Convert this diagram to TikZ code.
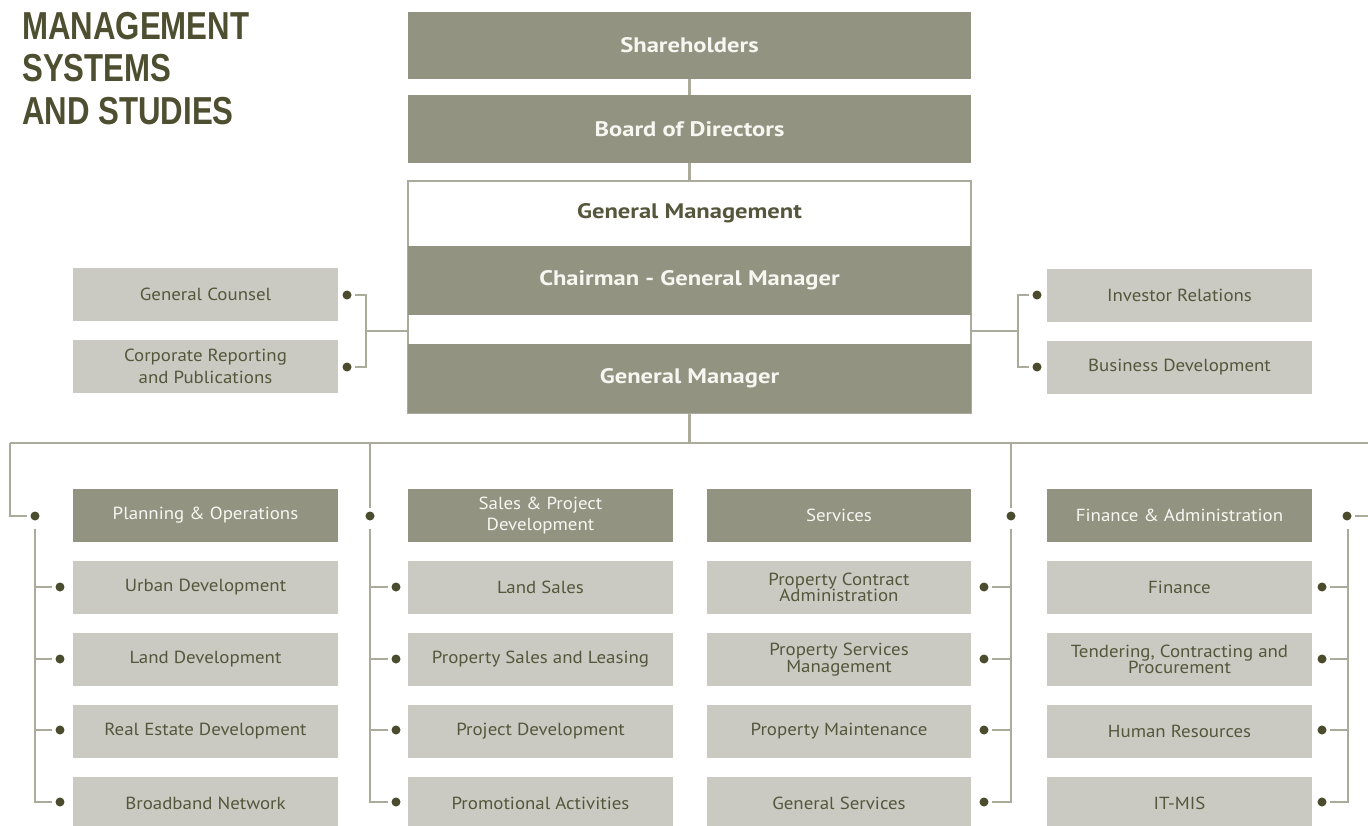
\documentclass[tikz,border=0pt]{standalone}
\usepackage{fontspec}
\setmainfont{PT Sans}[FakeStretch=1.08, BoldFeatures={FakeStretch=1.17}]
\newfontfamily\titlefont[FakeStretch=0.80]{Liberation Sans}
\definecolor{boxdark}{HTML}{939382}
\definecolor{boxlight}{HTML}{CACAC2}
\definecolor{txtdark}{HTML}{56563C}
\definecolor{txtwhite}{HTML}{F7F7F2}
\definecolor{titlecol}{HTML}{4E4E30}
\definecolor{linecol}{HTML}{ABAB9C}
\definecolor{dotcol}{HTML}{4B4B2E}
\tikzset{
  topbox/.style={fill=boxdark, text=txtwhite, inner sep=0pt, minimum width=563pt, minimum height=68pt,
    font=\fontsize{21}{22}\selectfont\bfseries},
  sidebox/.style={fill=boxlight, text=txtdark, inner sep=0pt, minimum width=265pt, minimum height=53pt,
    align=center, font=\fontsize{17.5}{22}\selectfont},
  tightbox/.style={sidebox, font=\fontsize{17.5}{16.5}\selectfont},
  headbox/.style={fill=boxdark, text=txtwhite, inner sep=0pt, minimum width=265pt, minimum height=53pt,
    align=center, font=\fontsize{17.5}{22}\selectfont},
  frame/.style={draw=linecol, line width=1.3pt, fill=white, inner sep=0pt},
  conn/.style={draw=linecol, line width=1.4pt},
  thickconn/.style={draw=linecol, line width=2.6pt},
  dot/.style={circle, fill=dotcol, inner sep=0pt, minimum size=9pt, outer sep=3.5pt},
  titletext/.style={anchor=base west, text=titlecol, inner sep=0pt, font=\titlefont\fontsize{39}{42}\selectfont\bfseries}
}
\begin{document}
\begin{tikzpicture}[x=1pt,y=-1pt]
\fill[white] (0,0) rectangle (1368,826);
\useasboundingbox (0,0) rectangle (1368,826);

% title
\node[titletext] (t1) at (22,39.5) {MANAGEMENT};
\node[titletext] (t2) at (22,82) {SYSTEMS};
\node[titletext] (t3) at (22,125) {AND STUDIES};

% top chain
\node[topbox, minimum height=67pt] (sh) at (689.5,45.5) {Shareholders};
\node[topbox] (bod) at (689.5,129) {Board of Directors};
\node[frame, minimum width=563pt, minimum height=232pt] (gmf) at (689.5,297) {};
\node[text=txtdark, inner sep=0pt, font=\fontsize{21}{22}\selectfont\bfseries] (gml) at (689.5,213) {General Management};
\node[topbox, minimum height=69pt] (chair) at (689.5,280.5) {Chairman - General Manager};
\node[topbox, minimum height=69pt] (gm) at (689.5,378.5) {General Manager};

\draw[thickconn] (sh) -- (bod);
\draw[thickconn] (bod) -- (gmf);

% side boxes
\node[sidebox] (gc) at (205.5,294.5) {General Counsel};
\node[sidebox] (crp) at (205.5,366.5) {Corporate Reporting\\and Publications};
\node[sidebox] (ir) at (1179.5,295.5) {Investor Relations};
\node[sidebox] (bd) at (1179.5,367.5) {Business Development};
\node[dot] (dgc) at (347,295) {};
\node[dot] (dcr) at (347,367) {};
\node[dot] (dir) at (1037,295) {};
\node[dot] (dbd) at (1037,367) {};
\coordinate (lj) at (366,331);
\coordinate (rj) at (1018,331);
\draw[conn] (lj -| gmf.west) -- (lj);
\draw[conn] (dgc) -| (lj) |- (dcr);
\draw[conn] (rj -| gmf.east) -- (rj);
\draw[conn] (dir) -| (rj) |- (dbd);

% bus
\coordinate (busM) at (689.5,443);
\coordinate (busL) at (10,443);
\coordinate (busR) at (1368,443);
\draw[thickconn] (gm) -- (busM);
\draw[conn] (busL) -- (busR);

% column 1
\node[headbox] (p0) at (205.5,515.5) {Planning \& Operations};
\node[sidebox] (p1) at (205.5,587.5) {Urban Development};
\node[sidebox] (p2) at (205.5,659.5) {Land Development};
\node[sidebox] (p3) at (205.5,731.5) {Real Estate Development};
\node[sidebox] (p4) at (205.5,803.5) {Broadband Network};
% column 2
\node[headbox, font=\fontsize{17.5}{21}\selectfont] (s0) at (540.5,515.5) {Sales \& Project\\Development};
\node[sidebox] (s1) at (540.5,587.5) {Land Sales};
\node[sidebox] (s2) at (540.5,659.5) {Property Sales and Leasing};
\node[sidebox] (s3) at (540.5,731.5) {Project Development};
\node[sidebox] (s4) at (540.5,803.5) {Promotional Activities};
% column 3
\node[headbox, minimum width=264pt] (v0) at (839,515.5) {Services};
\node[tightbox, minimum width=264pt] (v1) at (839,587.5) {Property Contract\\Administration};
\node[tightbox, minimum width=264pt] (v2) at (839,659.5) {Property Services\\Management};
\node[sidebox, minimum width=264pt] (v3) at (839,731.5) {Property Maintenance};
\node[sidebox, minimum width=264pt] (v4) at (839,803.5) {General Services};
% column 4
\node[headbox] (f0) at (1179.5,515.5) {Finance \& Administration};
\node[sidebox] (f1) at (1179.5,587.5) {Finance};
\node[tightbox] (f2) at (1179.5,659.5) {Tendering, Contracting and\\Procurement};
\node[sidebox] (f3) at (1179.5,731.5) {Human Resources};
\node[sidebox] (f4) at (1179.5,803.5) {IT-MIS};

% dots
\node[dot] (dp0) at (35,516) {};
\node[dot] (ds0) at (370,516) {};
\node[dot] (dv0) at (1011,516) {};
\node[dot] (df0) at (1347,516) {};
\foreach \r/\y in {1/587,2/659,3/730,4/802}{
  \node[dot] (dp\r) at (60,\y) {};
  \node[dot] (ds\r) at (396,\y) {};
  \node[dot] (dv\r) at (984,\y) {};
  \node[dot] (df\r) at (1322,\y) {};
}

% column connectors
\coordinate (c1t) at (35,529);
\coordinate (c2t) at (370,529);
\coordinate (c3t) at (1011,529);
\coordinate (c4t) at (1348,529);
\coordinate (c2b) at (370,443);
\coordinate (c3b) at (1011,443);
\draw[conn] (busL) |- (dp0);
\draw[conn] (c2b) -- (ds0);
\draw[conn] (c3b) -- (dv0);
\draw[conn] (df0) -- (df0 -| busR);
\draw[conn] (c1t) |- (dp4);
\draw[conn] (c2t) |- (ds4);
\draw[conn] (c3t) |- (dv4);
\draw[conn] (c4t) |- (df4);
\foreach \r in {1,2,3}{
  \draw[conn] (dp\r) -- (dp\r -| c1t);
  \draw[conn] (ds\r) -- (ds\r -| c2t);
  \draw[conn] (dv\r) -- (dv\r -| c3t);
  \draw[conn] (df\r) -- (df\r -| c4t);
}
\end{tikzpicture}
\end{document}
